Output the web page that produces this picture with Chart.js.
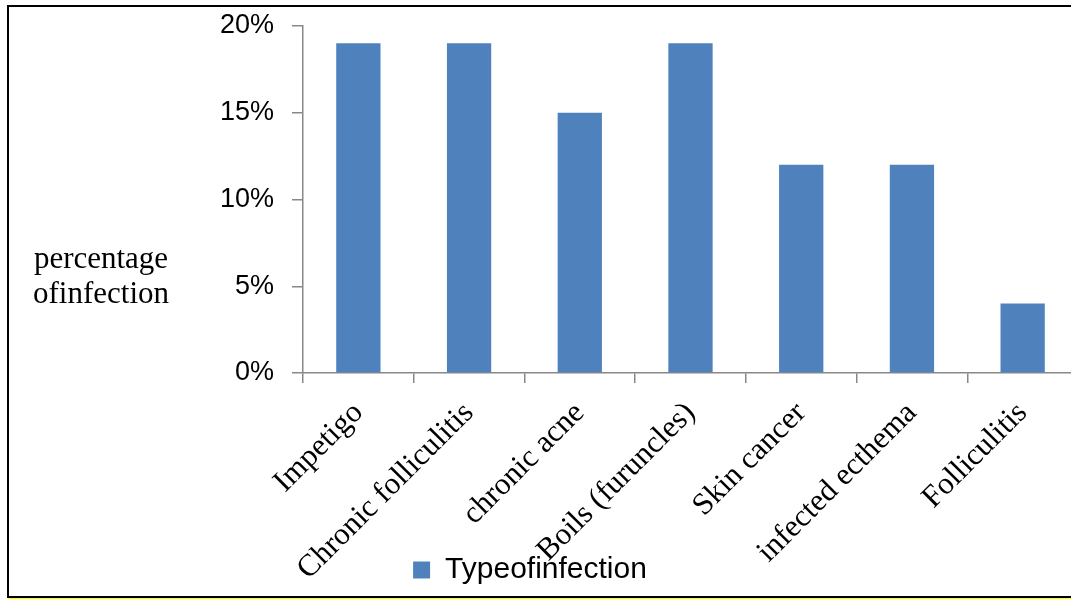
<!DOCTYPE html>
<html>
<head>
<meta charset="utf-8">
<script src="https://cdn.jsdelivr.net/npm/chart.js@4/dist/chart.umd.min.js"></script>
<style>
  html, body { margin: 0; padding: 0; background: #fff; overflow: hidden; }
  body { width: 1071px; height: 599px; position: relative; }
  #myChart { position: absolute; left: -18px; top: 0; }
  .frame { position: absolute; left: 7px; top: 5px; width: 1100px; height: 589px; border: 2px solid #000; border-right: none; }
  .frame-shadow { position: absolute; left: 8px; top: 597px; width: 1100px; height: 2px; background: #ffff00; }
</style>
</head>
<body>
<div class="frame-shadow"></div>
<div class="frame"></div>
<canvas id="myChart" width="1096" height="599"></canvas>
<script>
const categories = ['Impetigo', 'Chronic folliculitis', 'chronic acne', 'Boils (furuncles)', 'Skin cancer', 'infected ecthema', 'Folliculitis'];
const infectionPct = [19, 19, 15, 19, 12, 12, 4];
const yTicks = [0, 5, 10, 15, 20];
const seriesName = 'Typeofinfection';
const yTitleLines = ['percentage', 'ofinfection'];

const axisGray = '#888888';

// y title sits horizontally left of the axis, so draw it ourselves
const yTitlePlugin = {
  id: 'yTitle',
  afterLayout(chart) {
    // long rotated labels run down into the legend like in the original; don't clip them
    chart.scales.x.bottom = chart.height;
  },
  afterDraw(chart) {
    const ctx = chart.ctx;
    ctx.save();
    ctx.font = '31px "Liberation Serif", "Times New Roman", serif';
    ctx.fillStyle = '#000';
    ctx.textAlign = 'center';
    ctx.textBaseline = 'alphabetic';
    ctx.fillText(yTitleLines[0], 119, 268);
    ctx.fillText(yTitleLines[1], 119, 303);
    ctx.restore();
  }
};

const ctx = document.getElementById('myChart').getContext('2d');
new Chart(ctx, {
  type: 'bar',
  data: {
    labels: categories,
    datasets: [{
      label: seriesName,
      data: infectionPct,
      backgroundColor: '#4F81BD',
      borderWidth: 0,
      barPercentage: 0.4,
      categoryPercentage: 1
    }]
  },
  options: {
    responsive: false,
    animation: false,
    devicePixelRatio: 1,
    layout: { padding: { top: 26, right: 0, left: 0, bottom: 4 } },
    plugins: {
      tooltip: { enabled: false },
      legend: {
        position: 'bottom',
        labels: {
          color: '#000',
          boxWidth: 17,
          boxHeight: 17,
          padding: 10,
          font: { family: '"Liberation Sans", Arial, sans-serif', size: 30 }
        }
      }
    },
    scales: {
      x: {
        afterFit: s => { s.height = 172; },
        grid: { drawOnChartArea: false, offset: true, tickLength: 10, color: axisGray, lineWidth: 1.5 },
        border: { color: axisGray, width: 1.5 },
        ticks: {
          autoSkip: false,
          minRotation: 45,
          maxRotation: 45,
          padding: 12,
          color: '#000',
          font: { family: '"Liberation Serif", "Times New Roman", serif', size: 31 }
        }
      },
      y: {
        min: 0,
        max: 20,
        afterFit: s => { s.width = 321; s.paddingTop = 0; s.paddingBottom = 0; },
        afterBuildTicks: s => { s.ticks = yTicks.map(v => ({ value: v })); },
        grid: { drawOnChartArea: false, tickLength: 11, color: axisGray, lineWidth: 1.5 },
        border: { color: axisGray, width: 1.5 },
        ticks: {
          padding: 18,
          color: '#000',
          font: { family: '"Liberation Sans", Arial, sans-serif', size: 27 },
          callback: v => v + '%'
        }
      }
    }
  },
  plugins: [yTitlePlugin]
});
</script>
</body>
</html>
